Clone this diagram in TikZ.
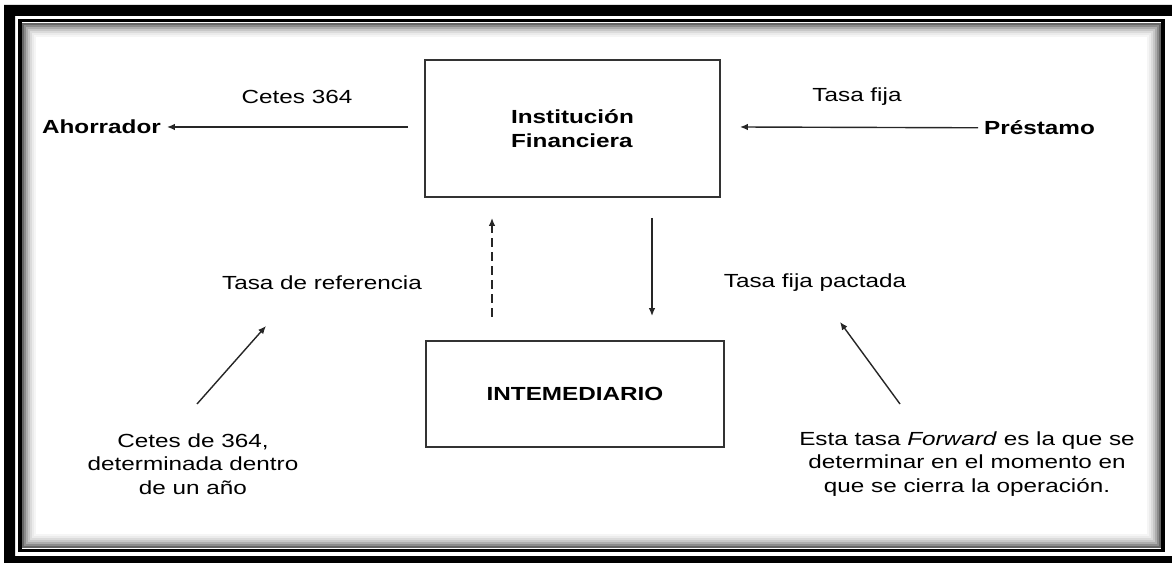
\documentclass[tikz,border=0pt]{standalone}
\usepackage{fontspec}
\setmainfont{Liberation Sans}[FakeStretch=1.28]
\usetikzlibrary{arrows.meta}

\begin{document}
\begin{tikzpicture}[x=0.02cm,y=-0.02cm,
		font=\fontsize{10.8}{13.5}\selectfont,
		caja/.style={draw=black!80,line width=0.75pt,inner sep=0pt},
		flecha/.style={draw=black!85,line width=0.8pt,-{Latex[length=4.5pt,width=3.8pt]}}]
			\useasboundingbox (0,0) rectangle (1172,563);
			% marco exterior
			\fill[black,even odd rule] (4,5) rectangle (1190,575) (15,16) rectangle (1190,556);
			\foreach \i/\g in {0/60,1/45,2/32,3/22,4/14,5/8,6/4}
				\draw[black!\g,line width=1.15pt] ({23+2*\i},{24+2*\i}) rectangle ({1160-2*\i},{547-2*\i});
			\draw[black,line width=1.8pt] (20,20.5) rectangle (1163,550.5);
			% cajas
			\node[caja,minimum width=5.9cm,minimum height=2.74cm,align=left,font=\fontsize{10.8}{13.5}\selectfont\bfseries] (inst) at (572.5,128.5) {Institución\\Financiera};
			\node[caja,minimum width=5.96cm,minimum height=2.12cm,font=\fontsize{10.8}{13.5}\selectfont\bfseries] (inter) at (575,394) {INTEMEDIARIO};
			% extremos
			\node[font=\fontsize{10.8}{13.5}\selectfont\bfseries,anchor=east] (ahorrador) at (167,127) {Ahorrador};
			\node[font=\fontsize{10.8}{13.5}\selectfont\bfseries,anchor=west] (prestamo) at (978,128) {Préstamo};
			% etiquetas
			\node (cetes) at (297,97) {Cetes 364};
			\node (fija) at (857,97) {Tasa fija};
			\node (referencia) at (322,283) {Tasa de referencia};
			\node (pactada) at (815,283) {Tasa fija pactada};
			\node[align=center] (cetes_nota) at (193,464) {Cetes de 364,\\determinada dentro\\de un año};
			\node[align=center] (forward_nota) at (967,464) {Esta tasa \textit{Forward} es la que se\\determinar en el momento en\\que se cierra la operación.};
			% puntos de las flechas
			\coordinate (cetes_ini) at (408,127);
			\coordinate (fija_fin) at (740,127);
			\coordinate (ref_ini) at (492,317);
			\coordinate (ref_fin) at (492,218);
			\coordinate (pact_ini) at (652,218);
			\coordinate (pact_fin) at (652,316);
			\coordinate (nota1_ini) at (197,404);
			\coordinate (nota1_fin) at (266,326);
			\coordinate (nota2_ini) at (900,404);
			\coordinate (nota2_fin) at (840,322);
			% flechas
			\draw[flecha] (cetes_ini)--(ahorrador);
			\draw[flecha] (prestamo)--(fija_fin);
			\draw[flecha,dash pattern=on 5pt off 3pt] (ref_ini)--(ref_fin);
			\draw[flecha] (pact_ini)--(pact_fin);
			\draw[flecha] (nota1_ini)--(nota1_fin);
			\draw[flecha] (nota2_ini)--(nota2_fin);
		\end{tikzpicture}
\end{document}
